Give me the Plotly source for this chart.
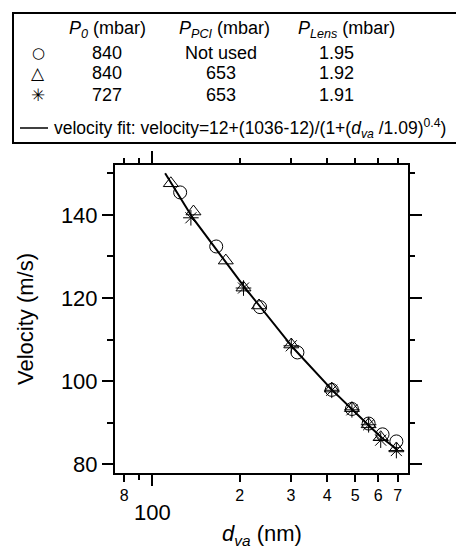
import math
import plotly.graph_objects as go

# ---- data ----
circle_dva = [124.6, 165.9, 235, 316, 415, 487, 556, 621, 693]
circle_vel = [145.4, 132.4, 117.8, 106.9, 97.9, 93.3, 89.8, 87.2, 85.5]

triangle_dva = [115.7, 138.5, 179, 206, 233, 301, 415, 487, 556, 612, 693]
triangle_vel = [147.6, 140.8, 129.0, 122.5, 118.2, 108.8, 98.2, 93.5, 89.6, 86.5, 83.8]

asterisk_dva = [135.7, 206, 301, 415, 487, 556, 612, 693]
asterisk_vel = [139.3, 122.4, 108.5, 97.8, 93.1, 89.5, 85.8, 83.3]

# fit curve
fit_dva = [110.6, 137.9, 208.8, 306.4, 415.8, 484.7, 553.4, 618.4, 700]
fit_vel = [150.0, 139.2, 122.4, 107.9, 97.9, 93.3, 89.5, 86.3, 83.5]

x_major_vals = [80, 200, 300, 400, 500, 600, 700]
x_major_text = ["8", "2", "3", "4", "5", "6", "7"]
y_tick_vals = [80, 100, 120, 140]
y_minor_vals = [90, 110, 130, 150]

legend_header = ["<i>P</i><sub><i>0</i></sub> (mbar)",
                 "<i>P</i><sub><i>PCI</i></sub> (mbar)",
                 "<i>P</i><sub><i>Lens</i></sub> (mbar)"]
legend_symbols = ["○", "△", "✳"]
legend_rows = [["840", "Not used", "1.95"],
               ["840", "653", "1.92"],
               ["727", "653", "1.91"]]
fit_label = ("velocity fit: velocity=12+(1036-12)/(1+(<i>d</i><sub><i>va</i></sub> /1.09)"
             "<sup>0.4</sup>)")

# ---- layout geometry ----
W, H = 456, 550
L, R, T, B = 115, 408, 165, 473
FONT = "Liberation Sans, Arial, sans-serif"
xr = [math.log10(74.3), math.log10(760)]
yr = [77.9, 152.0]


def px(x):
    return (x - L) / (R - L)


def py(y):
    return (B - y) / (B - T)


fig = go.Figure()
mk = dict(color="black", size=13, line=dict(color="black", width=1))
fig.add_trace(go.Scatter(x=circle_dva, y=circle_vel, mode="markers",
                         marker=dict(symbol="circle-open", **mk), showlegend=False))
fig.add_trace(go.Scatter(x=triangle_dva, y=triangle_vel, mode="markers",
                         marker=dict(symbol="triangle-up-open", **mk), showlegend=False))
fig.add_trace(go.Scatter(x=asterisk_dva, y=asterisk_vel, mode="markers",
                         marker=dict(symbol="asterisk-open", **mk), showlegend=False))
fig.add_trace(go.Scatter(x=fit_dva, y=fit_vel, mode="lines",
                         line=dict(color="black", width=2), showlegend=False,
                         hoverinfo="skip"))
# empty traces so the mirror axes (top / right / extra bottom tick) get drawn
fig.add_trace(go.Scatter(x=[], y=[], xaxis="x2", yaxis="y2", showlegend=False,
                         hoverinfo="skip"))
fig.add_trace(go.Scatter(x=[], y=[], xaxis="x3", yaxis="y", showlegend=False,
                         hoverinfo="skip"))

common_x = dict(type="log", range=xr, showgrid=False, zeroline=False,
                linecolor="black", tickcolor="black", tickwidth=1.5)
common_y = dict(range=yr, showgrid=False, zeroline=False,
                linecolor="black", tickcolor="black", tickwidth=1.5)

fig.update_layout(
    width=W, height=H,
    margin=dict(l=L, r=W - R, t=T, b=H - B, pad=0),
    paper_bgcolor="white", plot_bgcolor="white",
    font=dict(family=FONT, color="black"),
    showlegend=False,
    xaxis=dict(**common_x, side="bottom", anchor="y", showline=True, linewidth=2,
               ticks="outside", tickmode="array", tickvals=x_major_vals,
               ticktext=x_major_text, ticklen=7, tickfont=dict(size=16),
               minor=dict(tickmode="array", tickvals=[90], ticks="outside",
                          ticklen=5, tickwidth=1.5, tickcolor="black", showgrid=False)),
    xaxis3=dict(**common_x, side="bottom", anchor="y", overlaying="x", showline=False,
                ticks="outside", tickmode="array", tickvals=[100], ticktext=["100"],
                ticklen=12, tickfont=dict(size=22), ticklabelstandoff=8),
    xaxis2=dict(**common_x, side="top", anchor="y2", overlaying="x", showline=True,
                linewidth=2, ticks="outside", tickmode="array", tickvals=[100],
                ticklen=12, showticklabels=False,
                minor=dict(tickmode="array",
                           tickvals=[80, 90, 200, 300, 400, 500, 600, 700],
                           ticks="outside", ticklen=5, tickwidth=1.5,
                           tickcolor="black", showgrid=False)),
    yaxis=dict(**common_y, side="left", anchor="x", showline=True, linewidth=2,
               ticks="outside", tickmode="array", tickvals=y_tick_vals, ticklen=11,
               tickfont=dict(size=22),
               minor=dict(tickmode="array", tickvals=y_minor_vals, ticks="outside",
                          ticklen=6, tickwidth=1.5, tickcolor="black", showgrid=False)),
    yaxis2=dict(**common_y, side="right", anchor="x2", overlaying="y", showline=True,
                linewidth=2, ticks="outside", tickmode="array", tickvals=y_tick_vals,
                ticklen=12, showticklabels=False,
                minor=dict(tickmode="array", tickvals=y_minor_vals, ticks="outside",
                           ticklen=5, tickwidth=1.5, tickcolor="black", showgrid=False)),
)

# axis titles
fig.add_annotation(text="Velocity (m/s)", x=px(25), y=py(319), xref="paper", yref="paper",
                   textangle=-90, showarrow=False, font=dict(size=22),
                   xanchor="center", yanchor="middle")
fig.add_annotation(text="<i>d</i><sub><i>va</i></sub> (nm)", x=px(261.5), y=py(535),
                   xref="paper", yref="paper", showarrow=False, font=dict(size=22),
                   xanchor="center", yanchor="middle")

# legend box
fig.add_shape(type="rect", xref="paper", yref="paper",
              x0=px(13), x1=px(470), y0=py(13), y1=py(143),
              line=dict(color="black", width=2), fillcolor="rgba(0,0,0,0)")
fig.add_shape(type="line", xref="paper", yref="paper",
              x0=px(20), x1=px(48), y0=py(128), y1=py(128),
              line=dict(color="black", width=1.5))

col_x = [107, 224, 346]
for cx, txt in zip(col_x, legend_header):
    fig.add_annotation(text=txt, x=px(cx), y=py(29), xref="paper", yref="paper",
                       showarrow=False, font=dict(size=18),
                       xanchor="center", yanchor="middle")
row_y = [53, 73, 95]
val_x = [107, 221, 336]
sym_size = [15, 17, 17]
for ry, sym, ss, row in zip(row_y, legend_symbols, sym_size, legend_rows):
    fig.add_annotation(text=sym, x=px(38), y=py(ry), xref="paper", yref="paper",
                       showarrow=False, font=dict(size=ss, family="DejaVu Sans"),
                       xanchor="center", yanchor="middle")
    for vx, txt in zip(val_x, row):
        fig.add_annotation(text=txt, x=px(vx), y=py(ry), xref="paper", yref="paper",
                           showarrow=False, font=dict(size=18),
                           xanchor="center", yanchor="middle")
fig.add_annotation(text=fit_label, x=px(52), y=py(128), xref="paper", yref="paper",
                   showarrow=False, font=dict(size=17.5),
                   xanchor="left", yanchor="middle")

fig.write_html("out.html", config={"displayModeBar": False},
               post_script="document.body.style.margin='0';")
